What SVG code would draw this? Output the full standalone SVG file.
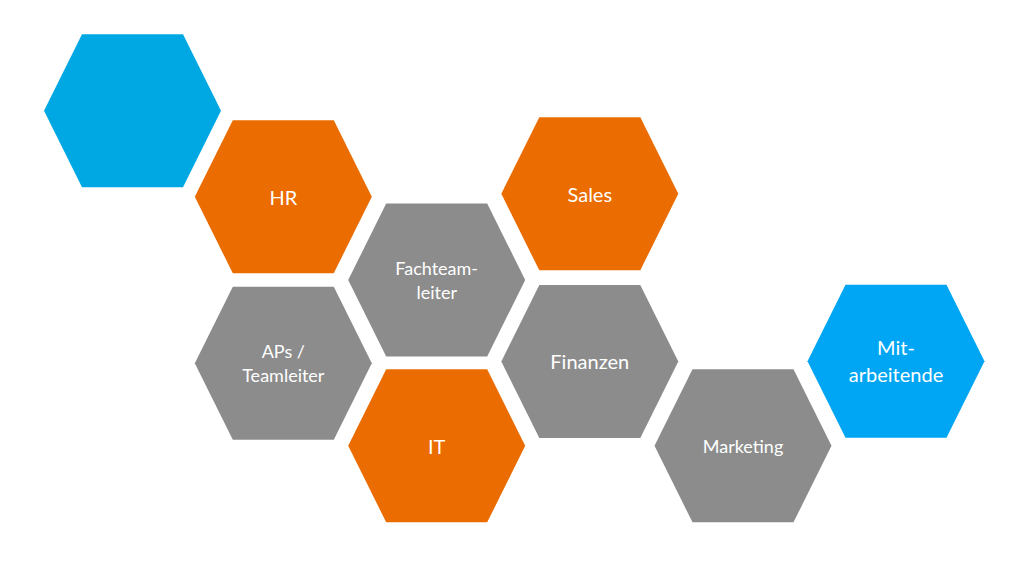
<svg xmlns="http://www.w3.org/2000/svg" xmlns:xlink="http://www.w3.org/1999/xlink" width="1024" height="576" viewBox="0 0 1024 576">
  <defs>
    <polygon id="hex" points="-88.5,0 -50.5,-76.5 50.5,-76.5 88.5,0 50.5,76.5 -50.5,76.5"/>
    <style>
      .blue { fill: #00A8E3; }
      .blue2 { fill: #00A6F4; }
      .orange { fill: #EB6C00; }
      .gray { fill: #8C8C8C; }
      text { font-family: Lato, "Open Sans", "Liberation Sans", sans-serif; fill: #FFFFFF; text-anchor: middle; }
      .big { font-size: 20px; }
      .small { font-size: 18px; }
    </style>
  </defs>
  <rect width="1024" height="576" fill="#FFFFFF"/>
  <g id="connectors"/>
  <g id="blank" transform="translate(132.5,110.8)">
    <use xlink:href="#hex" class="blue"/>
  </g>
  <g id="hr" transform="translate(283.3,196.7)">
    <use xlink:href="#hex" class="orange"/>
    <text class="big" x="0" y="8">HR</text>
  </g>
  <g id="fachteamleiter" transform="translate(436.7,280)">
    <use xlink:href="#hex" class="gray"/>
    <text class="small" x="0" y="-4.7">Fachteam-</text>
    <text class="small" x="0" y="19">leiter</text>
  </g>
  <g id="sales" transform="translate(589.8,193.8)">
    <use xlink:href="#hex" class="orange"/>
    <text class="big" x="0" y="8">Sales</text>
  </g>
  <g id="aps" transform="translate(283.3,363.3)">
    <use xlink:href="#hex" class="gray"/>
    <text class="small" x="0" y="-5.6">APs /</text>
    <text class="small" x="0" y="18.4">Teamleiter</text>
  </g>
  <g id="finanzen" transform="translate(589.8,361.5)">
    <use xlink:href="#hex" class="gray"/>
    <text class="big" x="0" y="7.8">Finanzen</text>
  </g>
  <g id="it" transform="translate(436.7,445.8)">
    <use xlink:href="#hex" class="orange"/>
    <text class="big" x="0" y="8">IT</text>
  </g>
  <g id="marketing" transform="translate(743,445.8)">
    <use xlink:href="#hex" class="gray"/>
    <text class="small" x="0" y="6.9">Marketing</text>
  </g>
  <g id="mitarbeitende" transform="translate(896,361.3)">
    <use xlink:href="#hex" class="blue2"/>
    <text class="big" x="0" y="-6.3">Mit-</text>
    <text class="big" x="0" y="21">arbeitende</text>
  </g>
</svg>
